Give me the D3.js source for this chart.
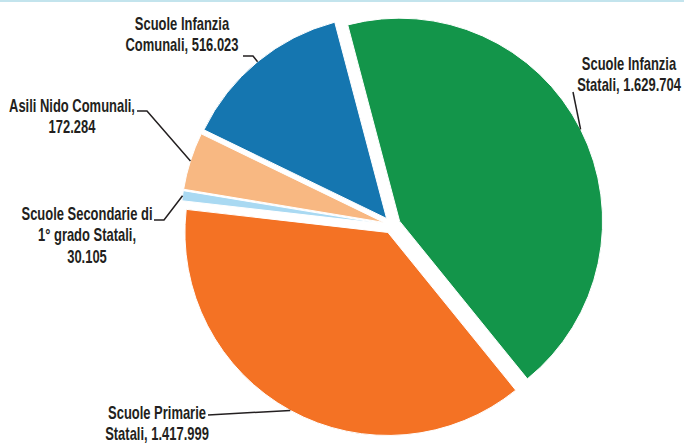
<!DOCTYPE html>
<html><head><meta charset="utf-8">
<script src="https://cdn.jsdelivr.net/npm/d3@7"></script>
<style>body{margin:0;background:#fff}svg{display:block}</style>
</head><body><svg id="c" width="684" height="444"></svg>
<script>
const categories = ["Scuole Infanzia Statali","Scuole Primarie Statali","Scuole Secondarie di 1° grado Statali","Asili Nido Comunali","Scuole Infanzia Comunali"];
const values = [1629704, 1417999, 30105, 172284, 516023];
const colors = ["#13954a", "#f47224", "#a9d9f2", "#f8b882", "#1576b0"];
const labelText = [["Scuole Infanzia", "Statali, "], ["Scuole Primarie", "Statali, "], ["Scuole Secondarie di", "1° grado Statali,", ""], ["Asili Nido Comunali,", ""], ["Scuole Infanzia", "Comunali, "]];

const fmt = d3.formatLocale({decimal: ",", thousands: ".", grouping: [3], currency: ["", "€"]}).format(",");

// layout
const W = 684, H = 444;
const cx = 392, cy = 225, R = 203, explode = 8.5;
const start = -14.8 * Math.PI / 180;
const labelPos = [
  {x: 629, y: 70, hook: null},
  {x: 157, y: 419, hook: null, ax: 208, ay: 415},
  {x: 87, y: 220, hook: [154, 164, 220]},
  {x: 72, y: 112, hook: [137, 147, 111]},
  {x: 182, y: 30, hook: [243, 253, 56]}
];
const lineH = 21.5;

const svg = d3.select("#c");
svg.append("rect").attr("x", 0).attr("y", 0).attr("width", W).attr("height", 2).attr("fill", "#c3e4ed");

const pie = d3.pie().sort(null).value(d => d).startAngle(start).endAngle(start + 2 * Math.PI);
const arcs = pie(values);
const arc = d3.arc().innerRadius(0).outerRadius(R);

const g = svg.append("g").attr("transform", `translate(${cx},${cy})`);
arcs.forEach((a, i) => {
  const mid = (a.startAngle + a.endAngle) / 2;
  const [ox, oy] = d3.pointRadial(mid, explode);
  a.ox = ox; a.oy = oy; a.mid = mid;
  g.append("path").attr("d", arc(a)).attr("transform", `translate(${ox},${oy})`)
    .attr("fill", colors[i]).attr("stroke", "#fff").attr("stroke-width", 1);
});

// leaders
arcs.forEach((a, i) => {
  const [px, py] = d3.pointRadial(a.mid, R);
  const ex = cx + a.ox + px, ey = cy + a.oy + py;
  const lp = labelPos[i];
  let pts;
  if (lp.hook) pts = [[lp.hook[0], lp.hook[2]], [lp.hook[1], lp.hook[2]], [ex, ey]];
  else if (lp.ax) pts = [[lp.ax, lp.ay], [ex, ey]];
  else pts = [[573, 92], [ex, ey]];
  svg.append("path").attr("d", d3.line()(pts)).attr("fill", "none").attr("stroke", "#231f20").attr("stroke-width", 1.5);
});

// labels
arcs.forEach((a, i) => {
  const lp = labelPos[i];
  const lines = labelText[i].slice();
  lines[lines.length - 1] = lines[lines.length - 1] + fmt(values[i]);
  const tg = svg.append("g").attr("transform", `translate(${lp.x},${lp.y}) scale(0.72,1)`);
  lines.forEach((t, j) => {
    tg.append("text").attr("x", 0).attr("y", j * lineH).attr("text-anchor", "middle")
      .attr("font-family", "'Liberation Sans Narrow', 'Liberation Sans', sans-serif")
      .attr("font-weight", "bold").attr("font-size", 18).attr("fill", "#231f20").text(t);
  });
});
</script></body></html>
